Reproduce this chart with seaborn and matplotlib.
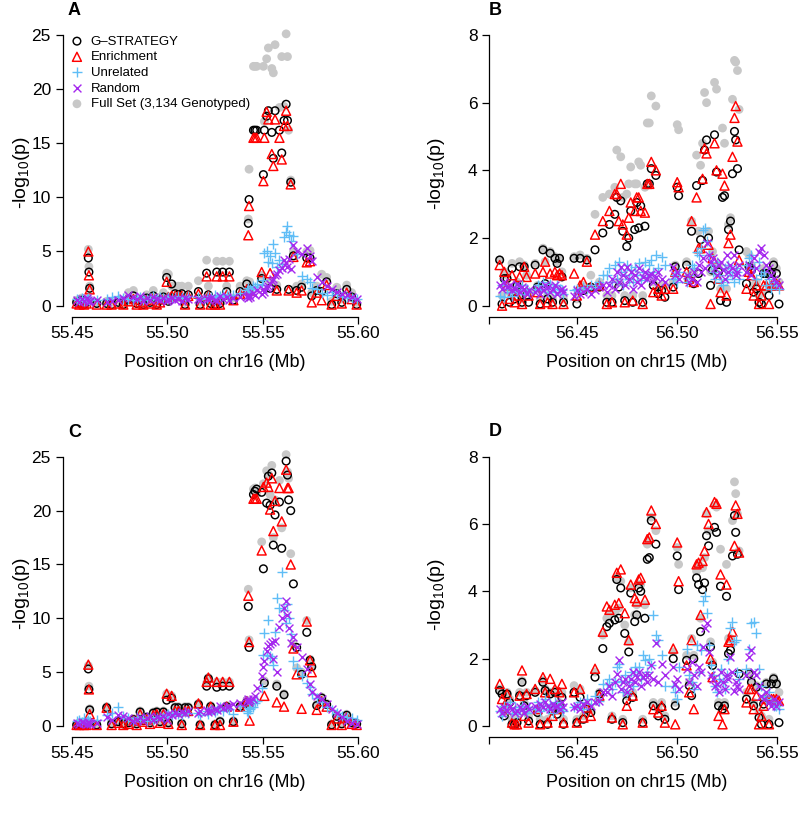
import matplotlib
matplotlib.use("Agg")
import matplotlib.pyplot as plt
import seaborn as sns

sns.set_theme(style="ticks")
plt.rcParams["font.family"] = ["Liberation Sans", "DejaVu Sans"]
plt.rcParams["mathtext.default"] = "regular"
plt.rcParams["axes.edgecolor"] = "black"
plt.rcParams["xtick.color"] = "black"
plt.rcParams["ytick.color"] = "black"
plt.rcParams["text.color"] = "black"
plt.rcParams["axes.labelcolor"] = "black"

# ---------------- data ----------------
LABELS = ["G\u2013STRATEGY", "Enrichment", "Unrelated", "Random", "Full Set (3,134 Genotyped)"]

# SNP positions (Mb), chr16 region
pos16 = [55.4526, 55.4540, 55.4552, 55.4565, 55.4578, 55.4587, 55.4590, 55.4594, 55.4631, 55.4683,
         55.4709, 55.4744, 55.4770, 55.4797, 55.4823, 55.4840, 55.4858, 55.4875, 55.4892, 55.4910,
         55.4927, 55.4945, 55.4962, 55.4980, 55.4997, 55.5006, 55.5023, 55.5041, 55.5058, 55.5076,
         55.5093, 55.5110, 55.5163, 55.5172, 55.5206, 55.5215, 55.5227, 55.5250, 55.5259, 55.5276,
         55.5290, 55.5311, 55.5325, 55.5346, 55.5381, 55.5416, 55.5424, 55.5428, 55.5431, 55.5451,
         55.5459, 55.5468, 55.5494, 55.5503, 55.5508, 55.5520, 55.5529, 55.5538, 55.5547, 55.5555,
         55.5564, 55.5573, 55.5587, 55.5599, 55.5611, 55.5622, 55.5629, 55.5635, 55.5646, 55.5660,
         55.5677, 55.5703, 55.5730, 55.5747, 55.5756, 55.5782, 55.5808, 55.5834, 55.5860, 55.5887,
         55.5913, 55.5939, 55.5965, 55.5991]

# panel A  (-log10 p)
a_gstrat = [0.3, 0.2, 0.5, 0.1, 0.3, 4.4, 3.1, 1.6, 0.2, 0.2,
            0.1, 0.3, 0.1, 0.6, 0.9, 0.2, 0.4, 0.1, 0.7, 0.3,
            0.9, 0.1, 0.5, 0.8, 2.6, 0.4, 2.0, 1.1, 1.0, 1.1,
            0.1, 1.0, 1.3, 0.1, 3.0, 1.0, 0.2, 0.1, 3.1, 0.2,
            3.1, 1.3, 3.1, 0.5, 1.3, 2.0, 7.6, 9.8, 1.6, 16.2,
            16.2, 16.2, 2.5, 12.1, 16.2, 17.5, 18.0, 1.6, 16.0, 13.6,
            18.0, 1.5, 16.2, 14.1, 17.1, 18.6, 17.1, 1.5, 11.4, 4.6,
            1.4, 1.7, 4.4, 4.4, 0.9, 1.4, 1.3, 2.2, 0.1, 1.1,
            0.3, 1.5, 0.8, 0.1]
a_enrich = [0.2, 0.1, 0.3, 0.1, 0.2, 5.0, 2.8, 1.5, 0.1, 0.1,
            0.1, 0.2, 0.1, 0.4, 0.6, 0.1, 0.3, 0.1, 0.5, 0.2,
            0.7, 0.1, 0.3, 0.6, 2.2, 0.8, 0.9, 0.9, 0.9, 0.9,
            0.1, 0.9, 1.1, 0.1, 2.7, 0.9, 0.1, 0.1, 2.7, 0.1,
            2.7, 1.0, 2.7, 0.5, 1.1, 1.5, 6.5, 9.2, 1.4, 15.5,
            15.5, 15.5, 3.1, 11.5, 15.5, 17.9, 17.2, 3.0, 14.0, 12.9,
            17.2, 1.4, 15.5, 13.5, 16.6, 18.0, 16.6, 1.4, 11.2, 4.5,
            1.2, 1.4, 4.0, 4.1, 0.3, 1.2, 0.5, 1.9, 0.1, 0.9,
            0.2, 1.2, 0.6, 0.1]
a_unrel = [0.6, 0.5, 0.7, 0.4, 0.6, 0.7, 0.5, 0.6, 0.5, 0.6,
           0.8, 0.9, 0.7, 0.6, 0.5, 0.7, 0.8, 0.5, 0.6, 0.7,
           0.9, 0.6, 0.8, 0.7, 0.6, 0.8, 0.7, 0.8, 0.9, 0.8,
           0.7, 0.9, 0.8, 0.6, 0.7, 0.9, 0.8, 1.0, 0.8, 0.9,
           1.1, 1.0, 0.9, 1.0, 1.2, 1.4, 1.6, 1.3, 1.5, 1.8,
           1.7, 2.0, 1.9, 2.4, 4.9, 5.0, 4.0, 4.6, 3.9, 5.7,
           4.9, 3.6, 4.2, 3.8, 6.3, 6.8, 7.4, 6.5, 6.0, 6.4,
           4.8, 2.7, 2.5, 2.2, 1.6, 1.5, 1.2, 1.0, 1.3, 1.1,
           0.9, 0.8, 0.7, 0.6]
a_random = [0.5, 0.3, 0.6, 0.4, 0.7, 0.5, 0.3, 0.4, 0.5, 0.3,
            0.4, 0.5, 0.7, 1.0, 0.8, 0.6, 0.9, 0.4, 0.7, 0.5,
            0.8, 0.6, 0.5, 0.7, 0.4, 0.6, 0.7, 0.5, 0.6, 0.4,
            0.7, 0.6, 0.6, 0.5, 0.7, 0.6, 0.7, 0.5, 0.4, 0.9,
            0.6, 0.8, 0.5, 0.7, 0.8, 0.9, 0.7, 1.0, 0.8, 1.2,
            1.0, 1.4, 1.1, 1.5, 1.3, 1.6, 1.8, 2.0, 2.3, 2.5,
            2.8, 2.9, 3.3, 3.5, 4.2, 3.9, 3.6, 4.3, 3.4, 5.6,
            5.0, 4.8, 5.3, 4.6, 4.1, 2.6, 2.2, 1.8, 1.5, 1.3,
            1.1, 1.0, 0.8, 0.6]
a_full = [0.5, 0.4, 0.7, 0.3, 0.5, 5.2, 3.6, 1.8, 0.3, 0.4,
          0.3, 0.5, 0.3, 1.2, 1.4, 0.4, 0.6, 0.3, 1.0, 0.6,
          1.4, 0.3, 0.8, 1.2, 3.0, 2.9, 1.8, 1.8, 1.8, 1.8,
          0.3, 1.8, 2.3, 0.3, 4.2, 1.8, 0.4, 0.3, 4.1, 0.4,
          4.1, 1.8, 4.1, 0.7, 1.8, 2.3, 8.0, 12.6, 2.2, 22.1,
          22.1, 22.1, 2.8, 22.1, 17.0, 22.8, 23.8, 2.2, 21.9, 21.5,
          24.1, 1.9, 18.3, 23.0, 18.4, 25.1, 23.0, 16.2, 11.6, 5.0,
          1.8, 2.0, 5.0, 5.1, 1.2, 1.8, 2.9, 2.6, 0.4, 1.7,
          0.6, 1.9, 1.2, 0.3]

# panel C
c_gstrat = [0.1, 0.1, 0.1, 0.1, 0.1, 5.3, 3.4, 1.5, 0.1, 1.7,
            0.2, 0.4, 0.2, 0.3, 0.6, 0.2, 1.3, 0.5, 0.8, 0.3,
            1.2, 1.3, 0.4, 1.3, 2.4, 0.3, 2.6, 1.7, 1.7, 0.2,
            1.7, 1.7, 2.0, 0.1, 3.7, 4.4, 1.8, 0.1, 3.6, 0.4,
            3.7, 1.8, 3.7, 0.4, 1.8, 2.2, 11.1, 7.3, 1.9, 21.5,
            21.8, 22.0, 21.7, 14.6, 4.0, 20.7, 23.2, 20.5, 23.5, 16.8,
            19.6, 3.7, 20.8, 16.5, 2.9, 24.6, 23.3, 21.0, 20.0, 13.2,
            7.3, 4.8, 8.7, 6.1, 5.5, 1.9, 2.6, 2.0, 0.1, 0.9,
            0.2, 1.0, 0.3, 0.2]
c_enrich = [0.1, 0.1, 0.2, 0.1, 0.1, 5.7, 3.4, 1.1, 0.1, 1.7,
            0.1, 0.3, 0.1, 0.2, 0.5, 0.1, 1.1, 0.4, 0.6, 0.2,
            1.0, 1.1, 0.3, 1.1, 3.0, 0.2, 2.8, 1.4, 1.4, 0.1,
            1.4, 1.4, 2.1, 0.1, 4.1, 4.5, 1.8, 0.1, 4.1, 0.1,
            4.1, 1.8, 4.1, 0.4, 1.8, 2.3, 12.1, 7.8, 0.5, 21.1,
            21.1, 21.1, 16.3, 22.2, 2.8, 22.6, 22.2, 20.1, 23.0, 18.1,
            20.9, 2.2, 22.1, 19.0, 1.8, 23.8, 22.1, 22.1, 15.0, 7.2,
            4.8, 1.6, 9.7, 6.1, 5.0, 1.5, 2.3, 1.8, 0.1, 0.7,
            0.1, 0.8, 0.2, 0.1]
c_unrel = [0.5, 0.6, 0.4, 0.7, 0.5, 0.6, 0.4, 0.5, 0.6, 1.0,
           1.2, 1.8, 0.9, 0.7, 0.5, 0.8, 0.6, 0.7, 0.5, 0.8,
           0.6, 0.7, 0.9, 0.8, 1.0, 1.1, 1.0, 1.2, 1.1, 1.0,
           1.3, 1.2, 1.2, 1.0, 1.4, 1.1, 1.6, 1.3, 1.5, 1.8,
           1.4, 1.7, 1.6, 1.1, 1.9, 1.4, 1.2, 1.7, 1.6, 1.8,
           2.1, 2.3, 3.5, 6.6, 8.6, 6.6, 9.8, 6.5, 6.3, 5.7,
           8.7, 11.9, 11.0, 14.3, 10.8, 9.6, 11.3, 10.0, 8.5, 6.0,
           5.4, 4.6, 4.0, 3.6, 3.0, 2.6, 2.2, 1.8, 1.5, 1.2,
           0.9, 0.8, 0.7, 0.6]
c_random = [0.3, 0.2, 0.4, 0.3, 0.2, 0.4, 0.3, 0.2, 0.3, 0.8,
            0.6, 1.0, 0.9, 0.7, 0.5, 0.6, 0.8, 0.5, 0.7, 0.9,
            0.6, 0.8, 0.7, 0.9, 0.6, 1.1, 1.0, 1.2, 1.1, 1.3,
            1.2, 1.4, 1.2, 1.4, 1.5, 1.3, 1.4, 1.6, 1.5, 1.9,
            1.7, 1.8, 1.9, 2.0, 2.1, 2.3, 2.5, 2.2, 2.4, 2.5,
            2.8, 3.5, 4.6, 5.5, 6.0, 7.0, 7.4, 7.6, 7.8, 6.2,
            7.9, 5.0, 9.2, 10.0, 11.0, 11.6, 10.3, 9.1, 7.7, 8.3,
            7.3, 6.4, 5.3, 3.9, 3.2, 2.8, 2.5, 2.0, 1.6, 1.2,
            0.8, 0.5, 0.3, 0.2]
c_full = [0.2, 0.2, 0.3, 0.2, 0.2, 5.6, 3.7, 1.6, 0.2, 1.8,
          0.3, 0.5, 0.3, 0.4, 0.7, 0.3, 1.4, 0.6, 0.9, 0.4,
          1.3, 1.4, 0.5, 1.4, 3.0, 0.4, 2.8, 1.8, 1.8, 0.3,
          1.8, 1.8, 2.1, 0.2, 4.0, 4.5, 1.9, 0.2, 4.1, 0.5,
          4.1, 1.9, 4.1, 0.5, 1.9, 2.4, 12.7, 8.0, 2.0, 22.0,
          22.1, 21.6, 17.1, 22.5, 4.2, 23.7, 23.4, 21.5, 24.2, 17.5,
          21.0, 3.9, 22.8, 18.4, 3.0, 25.2, 23.6, 23.0, 16.0, 7.6,
          5.4, 5.0, 9.8, 6.2, 5.6, 2.0, 2.7, 2.1, 0.2, 1.0,
          0.3, 1.1, 0.4, 0.3]

# SNP positions (Mb), chr15 region
pos15 = [56.4110, 56.4122, 56.4133, 56.4147, 56.4160, 56.4172, 56.4185, 56.4197, 56.4210, 56.4222, 56.4233, 56.4245, 56.4255,
         56.4288, 56.4300, 56.4313, 56.4327, 56.4338, 56.4350, 56.4363, 56.4375, 56.4387, 56.4398, 56.4410, 56.4422, 56.4430,
         56.4483, 56.4497, 56.4513, 56.4530, 56.4547, 56.4567, 56.4588, 56.4610, 56.4627,
         56.4647, 56.4660, 56.4673, 56.4687, 56.4697, 56.4707, 56.4717, 56.4727, 56.4737, 56.4747, 56.4757, 56.4767, 56.4777,
         56.4787, 56.4797, 56.4807, 56.4817, 56.4827, 56.4838, 56.4850, 56.4860, 56.4870, 56.4880, 56.4893, 56.4905, 56.4922, 56.4938,
         56.4980, 56.4990, 56.5000, 56.5007,
         56.5047, 56.5060, 56.5072, 56.5083, 56.5097, 56.5107, 56.5117, 56.5127, 56.5137, 56.5147, 56.5157, 56.5167, 56.5177,
         56.5187, 56.5197, 56.5207, 56.5217, 56.5227, 56.5237, 56.5247, 56.5257, 56.5267, 56.5277, 56.5287, 56.5293, 56.5302, 56.5310,
         56.5347, 56.5360, 56.5372, 56.5383, 56.5397, 56.5410, 56.5422, 56.5433, 56.5447, 56.5460, 56.5472, 56.5483, 56.5497, 56.5510]

# panel B
b_gstrat = [1.35, 0.05, 0.8, 0.8, 0.1, 1.1, 0.2, 0.6, 1.15, 0.1, 1.15, 0.3, 0.1,
            1.2, 0.55, 0.05, 1.65, 0.65, 0.2, 1.55, 0.1, 1.4, 1.25, 1.4, 0.85, 0.1,
            1.4, 0.05, 1.4, 0.45, 1.35, 0.55, 1.65, 0.55, 2.15,
            0.1, 2.4, 0.1, 2.7, 3.2, 0.55, 3.1, 2.2, 0.15, 1.75, 2.0, 2.8, 0.1,
            2.25, 3.05, 2.3, 2.95, 0.1, 2.35, 3.6, 3.6, 4.05, 0.6, 3.85, 0.35, 0.45, 0.25,
            0.55, 1.15, 3.5, 3.25,
            1.2, 0.75, 2.2, 0.65, 3.55, 0.95, 1.95, 3.7, 4.6, 4.9, 2.0, 0.6, 1.05,
            5.05, 3.95, 1.0, 0.15, 3.2, 3.25, 0.1, 2.25, 2.5, 3.9, 5.15, 4.9, 4.05, 1.65,
            0.65, 1.15, 1.05, 0.4, 0.5, 0.1, 0.05, 0.95, 0.95, 0.3, 0.95, 1.2, 0.95, 0.05]
b_enrich = [1.2, 0.0, 1.0, 0.6, 0.2, 0.9, 0.1, 0.3, 0.85, 0.05, 1.15, 0.85, 0.3,
            0.95, 0.4, 0.05, 1.0, 1.3, 0.1, 0.95, 0.05, 1.0, 0.9, 0.95, 0.9, 0.05,
            0.95, 0.3, 0.6, 0.7, 1.3, 0.55, 2.1, 0.6, 2.5,
            0.05, 2.8, 0.1, 3.3, 3.3, 2.5, 3.6, 2.4, 0.1, 2.1, 2.6, 3.05, 0.15,
            2.8, 3.2, 3.2, 2.8, 0.05, 2.75, 3.6, 3.6, 4.25, 0.4, 4.0, 0.5, 0.3, 0.5,
            0.5, 1.0, 3.65, 3.5,
            1.0, 0.8, 2.5, 0.7, 3.2, 1.7, 1.7, 3.75, 4.65, 4.5, 1.8, 0.05, 1.4,
            4.8, 4.0, 0.8, 0.4, 3.9, 3.55, 0.3, 1.85, 2.1, 4.4, 5.55, 5.9, 4.85, 1.35,
            0.5, 1.0, 0.9, 0.3, 0.6, 0.05, 0.3, 0.6, 0.6, 0.05, 0.6, 0.6, 0.65, 0.6]
b_unrel = [0.3, 0.6, 0.25, 0.5, 0.4, 0.3, 0.55, 0.4, 0.45, 0.6, 0.35, 0.5, 0.4,
           0.5, 0.6, 0.45, 0.7, 0.5, 0.4, 0.65, 0.55, 0.4, 0.6, 0.5, 0.45, 0.35,
           0.45, 0.5, 0.4, 0.55, 0.5, 0.6, 0.55, 0.7, 0.9,
           0.9, 1.1, 0.7, 1.2, 0.8, 1.3, 1.0, 0.6, 0.9, 1.2, 0.8, 1.05, 0.7,
           1.15, 0.9, 1.25, 0.75, 1.0, 1.3, 0.85, 1.2, 1.35, 1.0, 1.5, 1.1, 1.45, 1.2,
           0.8, 0.9, 0.7, 1.0,
           0.7, 0.9, 1.2, 1.1, 1.6, 1.5, 1.7, 2.25, 2.3, 1.9, 1.5, 1.2, 1.0,
           0.8, 1.3, 0.9, 0.7, 0.6, 1.1, 0.8, 1.2, 1.0, 0.9, 0.7, 1.1, 1.0, 0.8,
           1.2, 1.4, 1.5, 1.1, 0.8, 1.3, 0.9, 1.0, 0.6, 0.8, 0.5, 0.7, 0.6, 0.5]
b_random = [0.6, 0.5, 0.7, 0.55, 0.6, 0.45, 0.5, 0.65, 0.4, 0.55, 0.5, 0.35, 0.45,
            0.4, 0.5, 0.35, 0.45, 0.6, 0.55, 0.4, 0.5, 0.6, 0.35, 0.45, 0.5, 0.4,
            0.3, 0.45, 0.35, 0.4, 0.5, 0.35, 0.45, 0.55, 0.6,
            0.4, 0.6, 0.8, 0.5, 1.0, 0.7, 1.15, 0.9, 0.6, 1.15, 0.8, 1.0, 0.5,
            0.9, 0.7, 1.1, 0.6, 0.85, 1.0, 0.8, 0.9, 0.95, 0.7, 0.85, 1.0, 0.8, 0.7,
            1.15, 0.9, 1.0, 0.8,
            0.9, 0.7, 0.8, 1.0, 0.7, 1.2, 1.0, 1.4, 1.1, 1.85, 1.5, 1.3, 1.4,
            1.1, 0.9, 1.2, 1.3, 1.05, 0.8, 1.5, 1.0, 1.2, 1.1, 1.5, 0.9, 1.0, 1.2,
            1.0, 1.2, 0.9, 1.4, 1.1, 1.6, 1.7, 1.5, 1.2, 1.1, 0.9, 0.8, 0.7, 0.6]
b_full = [1.35, 0.3, 1.0, 0.9, 0.4, 1.25, 0.4, 0.7, 1.3, 0.2, 1.2, 0.9, 0.4,
          1.25, 0.6, 0.2, 1.7, 1.3, 0.3, 1.6, 0.2, 1.45, 1.3, 1.4, 1.0, 0.2,
          1.45, 0.2, 1.5, 0.6, 1.4, 0.9, 2.7, 0.7, 3.2,
          0.3, 3.3, 0.3, 3.5, 4.6, 0.7, 4.4, 3.2, 0.3, 3.3, 3.6, 4.1, 0.3,
          3.6, 3.6, 4.25, 4.15, 0.3, 3.5, 5.4, 5.4, 6.2, 0.7, 5.9, 0.5, 0.6, 0.6,
          0.7, 1.2, 5.35, 5.2,
          1.3, 0.9, 2.5, 1.0, 4.45, 2.2, 4.15, 4.8, 6.3, 6.0, 2.2, 1.0, 1.6,
          6.6, 6.4, 1.2, 0.5, 5.25, 4.8, 0.5, 2.4, 2.6, 6.1, 7.25, 7.2, 6.95, 5.8,
          1.6, 1.5, 1.2, 0.6, 0.7, 0.3, 0.4, 1.1, 1.0, 0.5, 1.0, 1.3, 1.1, 0.7]

# panel D
d_gstrat = [1.05, 0.95, 0.3, 0.95, 0.7, 0.05, 0.05, 0.1, 0.9, 1.3, 0.6, 0.9, 0.15,
            1.0, 0.4, 0.05, 1.3, 1.05, 0.05, 0.95, 0.45, 1.0, 0.35, 0.6, 0.85, 0.05,
            1.0, 0.1, 0.85, 0.2, 0.5, 0.4, 1.45, 0.95, 2.3,
            2.95, 3.05, 0.2, 3.15, 4.35, 3.2, 4.1, 0.1, 2.75, 0.75, 2.2, 3.95, 0.85,
            3.1, 3.3, 4.1, 4.0, 0.1, 3.2, 4.95, 5.0, 6.1, 0.6, 5.4, 0.3, 0.55, 0.2,
            2.0, 0.6, 5.05, 4.05,
            1.95, 1.2, 0.9, 2.0, 4.4, 4.2, 2.8, 4.05, 4.25, 5.65, 5.35, 2.35, 1.8,
            5.9, 5.75, 0.6, 4.15, 0.5, 0.6, 3.85, 2.15, 2.25, 5.05, 6.25, 5.75, 5.1, 1.55,
            0.8, 1.55, 1.3, 0.6, 1.15, 0.25, 0.05, 0.65, 1.25, 0.05, 1.25, 1.4, 1.25, 0.1]
d_enrich = [1.25, 0.8, 0.6, 0.95, 0.5, 0.1, 0.05, 0.05, 0.9, 1.65, 0.3, 0.95, 0.1,
            1.1, 0.5, 0.05, 1.45, 1.0, 0.1, 1.4, 0.3, 1.1, 0.5, 1.0, 1.25, 0.1,
            1.0, 0.1, 1.1, 0.25, 0.55, 0.3, 1.7, 0.9, 2.8,
            3.55, 3.45, 0.25, 3.6, 4.55, 3.65, 4.65, 0.05, 3.35, 0.6, 2.55, 4.2, 0.9,
            3.8, 3.7, 4.35, 4.4, 0.1, 3.75, 5.55, 5.6, 6.4, 0.5, 6.0, 0.4, 0.6, 0.1,
            2.3, 0.05, 5.45, 4.3,
            1.8, 1.0, 2.55, 0.5, 4.8, 4.85, 3.3, 4.9, 5.2, 6.35, 6.0, 2.0, 1.45,
            6.65, 6.6, 0.3, 4.5, 0.05, 0.5, 4.2, 2.5, 2.55, 2.8, 5.35, 6.55, 6.3, 5.15,
            0.7, 1.1, 1.1, 0.5, 0.9, 0.05, 0.3, 0.6, 0.8, 0.05, 0.8, 0.8, 0.8, 0.75]
d_unrel = [0.45, 0.3, 0.6, 0.5, 0.7, 0.4, 0.55, 0.35, 0.5, 0.6, 0.45, 0.4, 0.55,
           0.5, 0.7, 0.45, 0.6, 0.8, 0.5, 0.65, 0.4, 0.7, 0.55, 0.6, 0.5, 0.45,
           0.55, 0.6, 0.7, 0.5, 0.8, 0.65, 0.9, 0.75, 1.25,
           1.25, 1.4, 1.1, 1.3, 1.75, 1.85, 1.35, 1.0, 1.5, 1.0, 1.3, 1.6, 1.2,
           1.75, 1.5, 1.75, 1.4, 2.1, 1.95, 1.6, 2.0, 1.8, 3.3, 2.7, 2.55, 2.1, 1.2,
           1.2, 1.0, 0.8, 1.75,
           2.3, 1.5, 1.3, 1.1, 2.4, 1.6, 2.25, 3.7, 3.85, 3.35, 2.4, 1.8, 1.5,
           1.2, 1.0, 1.4, 1.7, 1.3, 1.1, 1.5, 2.0, 2.9, 3.1, 2.5, 2.55, 1.6, 1.4,
           1.7, 2.3, 3.05, 3.1, 2.75, 1.7, 1.2, 0.9, 0.8, 1.0, 0.7, 0.6, 0.6, 0.5]
d_random = [0.5, 0.4, 0.55, 0.45, 0.6, 0.5, 0.4, 0.45, 0.55, 0.5, 0.4, 0.6, 0.5,
            0.6, 0.5, 0.65, 0.55, 0.7, 0.6, 0.5, 0.65, 0.55, 0.6, 0.5, 0.7, 0.55,
            0.55, 0.6, 0.5, 0.65, 0.7, 0.6, 0.7, 0.75, 1.0,
            1.0, 1.2, 0.9, 1.3, 1.55, 1.95, 1.1, 1.3, 1.4, 1.0, 1.2, 1.4, 1.6,
            1.3, 1.45, 1.6, 1.2, 1.45, 1.5, 1.3, 1.5, 1.8, 1.4, 2.45, 1.3, 1.85, 1.5,
            1.75, 1.25, 1.4, 1.1,
            1.7, 1.3, 1.9, 1.5, 1.2, 1.75, 1.6, 2.35, 2.9, 3.05, 2.2, 1.5, 1.4,
            1.2, 1.25, 1.0, 1.6, 1.3, 1.1, 1.5, 1.4, 2.05, 1.6, 1.05, 1.3, 1.2, 1.1,
            1.5, 2.05, 2.25, 1.6, 1.5, 1.2, 0.9, 0.8, 1.0, 0.7, 0.6, 0.8, 0.6, 0.7]
d_full = [1.1, 1.0, 0.4, 1.0, 0.8, 0.2, 0.2, 0.2, 1.0, 1.35, 0.7, 1.0, 0.3,
          1.05, 0.5, 0.2, 1.35, 1.1, 0.2, 1.0, 0.5, 1.05, 0.5, 0.7, 1.0, 0.2,
          1.2, 0.2, 1.1, 0.3, 0.6, 0.5, 1.6, 1.0, 2.7,
          3.2, 3.3, 0.3, 3.4, 4.4, 3.5, 4.3, 0.2, 3.0, 0.9, 2.5, 4.1, 1.0,
          3.3, 3.6, 4.2, 4.2, 0.2, 3.6, 5.4, 5.5, 6.2, 0.7, 5.8, 0.5, 0.7, 0.3,
          2.2, 0.7, 5.3, 4.8,
          2.1, 1.3, 2.6, 2.1, 4.6, 4.8, 3.2, 4.7, 5.0, 6.3, 5.8, 2.5, 1.9,
          6.55, 6.5, 0.7, 5.25, 0.6, 0.7, 4.8, 2.6, 2.6, 6.1, 7.25, 6.9, 6.3, 5.2,
          1.0, 1.6, 1.35, 0.7, 1.2, 0.4, 0.3, 0.8, 1.3, 0.2, 1.3, 1.45, 1.3, 1.0]

# ---------------- styles ----------------
GRAY = "#C8C8C8"
BLUE = "#5FBDF6"
PURPLE = "#A528EE"


def draw_panel(ax, pos, gstrat, enrich, unrel, rand, full, with_labels=False):
    lab = (lambda i: LABELS[i]) if with_labels else (lambda i: None)
    sns.scatterplot(x=pos, y=full, ax=ax, marker="o", color=GRAY,
                    edgecolor="none", s=40, label=lab(4), zorder=1)
    sns.scatterplot(x=pos, y=gstrat, ax=ax, marker="o", color="black",
                    facecolor="none", edgecolor="black", linewidth=1.05, s=30,
                    label=lab(0), zorder=2)
    sns.scatterplot(x=pos, y=enrich, ax=ax, marker="^", color="red",
                    facecolor="none", edgecolor="red", linewidth=1.05, s=42,
                    label=lab(1), zorder=3)
    sns.scatterplot(x=pos, y=unrel, ax=ax, marker="+", color=BLUE,
                    linewidth=1.0, s=50, label=lab(2), zorder=4)
    sns.scatterplot(x=pos, y=rand, ax=ax, marker="x", color=PURPLE,
                    linewidth=1.0, s=32, label=lab(3), zorder=5)


def style_axes(ax, xlim, xticks, xticklabels, ylim, yticks, chrom, ylab_x):
    ax.set_xlim(xlim)
    ax.set_ylim(ylim)
    ax.set_xticks(xticks)
    ax.set_xticklabels(xticklabels)
    ax.set_yticks(yticks)
    ax.set_yticklabels([str(t) for t in yticks])
    ax.grid(False)
    for side in ["top", "right"]:
        ax.spines[side].set_visible(False)
    ax.spines["left"].set_bounds(yticks[0], yticks[-1])
    ax.spines["bottom"].set_bounds(xticks[0], xticks[-1])
    for side in ["left", "bottom"]:
        ax.spines[side].set_linewidth(0.9)
        ax.spines[side].set_color("black")
    ax.tick_params(axis="both", direction="out", length=5, width=0.9, labelsize=12.5)
    ax.tick_params(axis="x", pad=1.5)
    ax.tick_params(axis="y", pad=3.5)
    ax.set_xlabel(f"Position on {chrom} (Mb)", fontsize=13)
    ax.set_ylabel("-log$_{10}$(p)", fontsize=14)
    ax.xaxis.set_label_coords(0.5, -0.128)
    ax.yaxis.set_label_coords(ylab_x, 0.49)


fig = plt.figure(figsize=(8, 8.17), dpi=100)
axA = fig.add_axes([0.0784, 0.6124, 0.3808, 0.3594])
axB = fig.add_axes([0.6116, 0.6126, 0.3696, 0.3578])
axC = fig.add_axes([0.0784, 0.0979, 0.3808, 0.3575])
axD = fig.add_axes([0.6116, 0.0982, 0.3696, 0.3561])

draw_panel(axA, pos16, a_gstrat, a_enrich, a_unrel, a_random, a_full, with_labels=True)
draw_panel(axB, pos15, b_gstrat, b_enrich, b_unrel, b_random, b_full)
draw_panel(axC, pos16, c_gstrat, c_enrich, c_unrel, c_random, c_full)
draw_panel(axD, pos15, d_gstrat, d_enrich, d_unrel, d_random, d_full)

x16 = [55.45, 55.50, 55.55, 55.60]
x16_lab = ["55.45", "55.50", "55.55", "55.60"]
x15 = [56.4058, 56.45, 56.50, 56.55]
x15_lab = ["", "56.45", "56.50", "56.55"]

style_axes(axA, (55.4453, 55.6047), x16, x16_lab, (-1.02, 26.1), [0, 5, 10, 15, 20, 25], "chr16", -0.102)
style_axes(axC, (55.4453, 55.6047), x16, x16_lab, (-1.02, 26.1), [0, 5, 10, 15, 20, 25], "chr16", -0.102)
style_axes(axB, (56.4058, 56.554), x15, x15_lab, (-0.32, 8.32), [0, 2, 4, 6, 8], "chr15", -0.144)
style_axes(axD, (56.4058, 56.554), x15, x15_lab, (-0.32, 8.32), [0, 2, 4, 6, 8], "chr15", -0.144)

# legend (panel A), ordered as in the original
handles, labels = axA.get_legend_handles_labels()
order = [labels.index(l) for l in LABELS]
for ax in (axB, axC, axD):
    if ax.get_legend() is not None:
        ax.get_legend().remove()
axA.legend([handles[i] for i in order], [labels[i] for i in order],
           loc="upper left", bbox_to_anchor=(0.025, 0.958), frameon=False,
           fontsize=9.5, borderaxespad=0, borderpad=0, handlelength=1.0,
           handletextpad=0.55, labelspacing=0.26, scatterpoints=1)

# panel letters
for letter, x, y in [("A", 68, 15), ("B", 489, 15), ("C", 68, 437), ("D", 489, 436)]:
    fig.text(x / 800, 1 - y / 817, letter, fontsize=13, fontweight="bold",
             ha="left", va="baseline")

fig.savefig("out.png", dpi=100)
